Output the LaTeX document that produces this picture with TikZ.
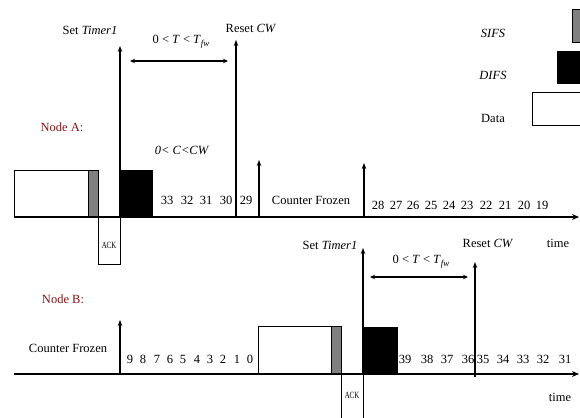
\documentclass[tikz,border=0pt]{standalone}
\usepackage{fontspec}
\setmainfont{Liberation Serif}
\usetikzlibrary{arrows.meta}
\definecolor{nodered}{RGB}{130,20,20}
\definecolor{sifsgray}{RGB}{128,128,128}
\newcommand\tfw{\textit{T}\raisebox{-0.55ex}{\fontsize{9}{10}\selectfont\textit{fw}}}
\newcommand\acklabel{\scalebox{0.72}[1]{ACK}}
\begin{document}
\begin{tikzpicture}[x=1pt,y=-1pt,
  txt/.style={font=\fontsize{12.5}{14}\selectfont, inner sep=0pt},
  lbl/.style={txt, text=nodered},
  blk/.style={draw=black, line width=0.9pt, anchor=south west, inner sep=0pt, outer sep=0pt},
  databox/.style={blk, fill=white},
  sifsbox/.style={blk, fill=sifsgray},
  difsbox/.style={blk, fill=black},
  ackbox/.style={draw=black, line width=0.9pt, anchor=north west, inner sep=0pt, outer sep=0pt},
  acktxt/.style={font=\fontsize{9.5}{10}\selectfont, inner sep=0pt},
  axisline/.style={line width=2pt, -{Stealth[length=7pt,width=6pt]}},
  evt/.style={line width=1.3pt, -{Stealth[length=6pt,width=4.5pt]}},
  span/.style={line width=1.3pt, {Stealth[length=5pt,width=4.5pt]}-{Stealth[length=5pt,width=4.5pt]}}
]
\clip (0,0) rectangle (580,417);
\fill[white] (0,0) rectangle (580,417);

% ---------------- Legend ----------------
\node[txt] (lsifs) at (493,33) {\textit{SIFS}};
\node[sifsbox, minimum width=12pt, minimum height=33pt] (lsifsbox) at (572,42) {};
\node[txt] (ldifs) at (493,75) {\textit{DIFS}};
\node[difsbox, minimum width=27pt, minimum height=32pt] (ldifsbox) at (557,83) {};
\node[txt] (ldata) at (493,118) {Data};
\node[databox, minimum width=52pt, minimum height=33pt] (ldatabox) at (532,125) {};

% ---------------- Node A ----------------
\node[lbl] (nodeA) at (62,127) {Node A:};
\coordinate (a0) at (14,217);
\coordinate (a1) at (579,217);

\node[databox, minimum width=74pt, minimum height=47pt] (dataA) at (14,217) {};
\node[sifsbox, minimum width=10pt, minimum height=47pt] (sifsA) at (88,217) {};
\node[difsbox, minimum width=32pt, minimum height=47pt] (difsA) at (120,217) {};
\node[ackbox, minimum width=22pt, minimum height=47pt] (ackA) at (98,217) {};
\node[acktxt] (ackAt) at (109,245) {\acklabel};

\draw[axisline] (a0) -- (a1);

\coordinate (setAb) at (120,217);
\coordinate (setAt) at (120,46);
\draw[evt] (setAb) -- (setAt);
\node[txt] (setAl) at (90,30) {Set \textit{Timer1}};

\coordinate (resAb) at (236,217);
\coordinate (resAt) at (236,40);
\draw[evt] (resAb) -- (resAt);
\node[txt] (resAl) at (251,28) {Reset \textit{CW}};

\coordinate (spA0) at (130,61);
\coordinate (spA1) at (228,61);
\draw[span] (spA0) -- (spA1);
\node[txt] (spAl) at (181,42) {0 < \textit{T} < \tfw};

\node[txt] (cwA) at (182,150) {\textit{0< C<CW}};

\foreach \n/\x in {33/167,32/187,31/206,30/226,29/246}
  \node[txt] (nA\n) at (\x,200) {\n};

\coordinate (frzAb) at (259,217);
\coordinate (frzAt) at (259,160);
\draw[evt] (frzAb) -- (frzAt);
\node[txt] (frzA) at (311,200) {Counter Frozen};

\coordinate (resmAb) at (364,217);
\coordinate (resmAt) at (364,163);
\draw[evt] (resmAb) -- (resmAt);

\foreach \n/\x in {28/378,27/396,26/413,25/431,24/449,23/467,22/486,21/505,20/524,19/542}
  \node[txt] (nA\n) at (\x,205) {\n};

\node[txt] (timeA) at (558,243) {time};

% ---------------- Node B ----------------
\node[lbl] (nodeB) at (63,299) {Node B:};
\coordinate (b0) at (14,374);
\coordinate (b1) at (579,374);

\node[txt] (frzB) at (68,348) {Counter Frozen};
\coordinate (frzBb) at (120,374);
\coordinate (frzBt) at (120,320);
\draw[evt] (frzBb) -- (frzBt);

\foreach \n/\x in {9/130,8/143,7/157,6/170,5/183,4/197,3/210,2/223,1/237,0/250}
  \node[txt] (nB\n) at (\x,359) {\n};

\node[databox, minimum width=73pt, minimum height=48pt] (dataB) at (258,374) {};
\node[sifsbox, minimum width=10pt, minimum height=48pt] (sifsB) at (331,374) {};
\node[difsbox, minimum width=34pt, minimum height=47pt] (difsB) at (363,374) {};
\node[ackbox, minimum width=22pt, minimum height=48pt] (ackB) at (341,374) {};
\node[acktxt] (ackBt) at (352,395) {\acklabel};

\draw[axisline] (b0) -- (b1);

\coordinate (setBb) at (363,374);
\coordinate (setBt) at (363,248);
\draw[evt] (setBb) -- (setBt);
\node[txt] (setBl) at (330,245) {Set \textit{Timer1}};

\coordinate (resBb) at (475,377);
\coordinate (resBt) at (475,262);
\draw[evt] (resBb) -- (resBt);
\node[txt] (resBl) at (488,243) {Reset \textit{CW}};

\coordinate (spB0) at (370,277);
\coordinate (spB1) at (468,277);
\draw[span] (spB0) -- (spB1);
\node[txt] (spBl) at (421,262) {0 < \textit{T} < \tfw};

\foreach \n/\x in {39/405,38/427,37/447,36/468,35/483,34/503,33/523,32/543,31/565}
  \node[txt] (nB\n) at (\x,359) {\n};

\node[txt] (timeB) at (560,397) {time};
\end{tikzpicture}
\end{document}
